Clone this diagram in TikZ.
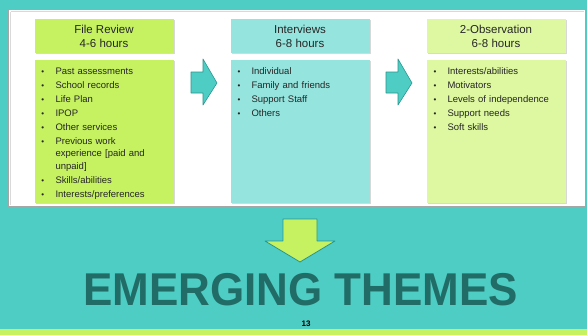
\documentclass[tikz,border=0pt]{standalone}
\usepackage{fontspec}
\setmainfont{Liberation Sans}
\usetikzlibrary{positioning,shadows}

\definecolor{slideteal}{RGB}{78,205,196}
\definecolor{arrowedge}{RGB}{42,150,142}
\definecolor{limegreen}{RGB}{198,242,98}
\definecolor{palelime}{RGB}{221,248,160}
\definecolor{paleteal}{RGB}{150,228,222}
\definecolor{themetext}{RGB}{34,108,103}

% one bullet line, wrapped lines hang under the text
\newcommand{\bitem}[1]{\par\hangindent=14pt\hangafter=1\noindent\makebox[14pt][l]{\fontsize{8}{8}\selectfont\textbullet}#1}

\tikzset{
	hdrbox/.style={minimum width=139pt, minimum height=34pt, inner sep=0pt, align=center,
		font=\fontsize{11.5}{14}\selectfont, text=black!85,
		drop shadow={shadow xshift=1.2pt, shadow yshift=-1.2pt, opacity=0.3}},
	bodybox/.style={minimum width=139pt, minimum height=143pt, inner sep=0pt,
		drop shadow={shadow xshift=1.2pt, shadow yshift=-1.2pt, opacity=0.3}},
	itemlist/.style={anchor=north west, inner sep=0pt, text width=118pt, align=left,
		font=\fontsize{9.5}{12.3}\selectfont, text=black!85,
		execute at begin node={\setlength{\parskip}{1.7pt}}},
	sidearrow/.style={fill=slideteal, draw=arrowedge, line width=0.6pt, line join=round},
}

\begin{document}
\begin{tikzpicture}[x=1pt, y=-1pt]
	\useasboundingbox (0,0) rectangle (587,335);
	%slide background and white panel
	\fill[slideteal] (0,0) rectangle (587,335);
	\fill[limegreen] (0,329) rectangle (587,335);
	\fill[white] (8,9) rectangle (586,207);
	\draw[black!35, line width=1.5pt] (8.7,9.7) rectangle (585.3,206.3);
	\draw[black!15, line width=1pt] (10.5,11.5) -- (10.5,204.5);
	\draw[black!15, line width=1pt] (10.5,11.5) -- (583.5,11.5);

	%three steps, header and list
	\node[hdrbox, fill=limegreen] (hdr1) at (104,36) {File Review\\4-6 hours};
	\node[hdrbox, fill=paleteal] (hdr2) at (300,36) {Interviews\\6-8 hours};
	\node[hdrbox, fill=palelime] (hdr3) at (496,36) {2-Observation\\6-8 hours};
	\node[bodybox, fill=limegreen, below=6.5pt of hdr1] (body1) {};
	\node[bodybox, fill=paleteal, below=6.5pt of hdr2] (body2) {};
	\node[bodybox, fill=palelime, below=6.5pt of hdr3] (body3) {};

	\node[itemlist] (list1) at ([xshift=7pt, yshift=-0.5pt]body1.north west) {%
		\bitem{Past assessments}
		\bitem{School records}
		\bitem{Life Plan}
		\bitem{IPOP}
		\bitem{Other services}
		\bitem{Previous work\newline experience [paid and\newline unpaid]}
		\bitem{Skills/abilities}
		\bitem{Interests/preferences}};
	\node[itemlist] (list2) at ([xshift=7pt, yshift=-0.5pt]body2.north west) {%
		\bitem{Individual}
		\bitem{Family and friends}
		\bitem{Support Staff}
		\bitem{Others}};
	\node[itemlist] (list3) at ([xshift=7pt, yshift=-0.5pt]body3.north west) {%
		\bitem{Interests/abilities}
		\bitem{Motivators}
		\bitem{Levels of independence}
		\bitem{Support needs}
		\bitem{Soft skills}};

	%block arrows between the steps
	\draw[sidearrow] (191,72) -- (203,72) -- (203,59) -- (217,83) -- (203,105) -- (203,93) -- (191,93) -- cycle;
	\draw[sidearrow] (386,72) -- (398,72) -- (398,59) -- (412,83) -- (398,105) -- (398,93) -- (386,93) -- cycle;
	%arrow down to the result
	\draw[fill=limegreen, draw=arrowedge, line width=0.8pt, line join=round]
		(283,219) -- (317,219) -- (317,241) -- (335,241) -- (300,262) -- (265,241) -- (283,241) -- cycle;

	%result text
	\node[anchor=base, xscale=0.956, text=themetext, font=\fontsize{46}{46}\selectfont\bfseries] (themes)
		at (300.5,305) {EMERGING THEMES};
	\node[font=\fontsize{8}{8}\selectfont\bfseries, inner sep=0pt] (pagenum) at (306,324) {13};
\end{tikzpicture}
\end{document}
